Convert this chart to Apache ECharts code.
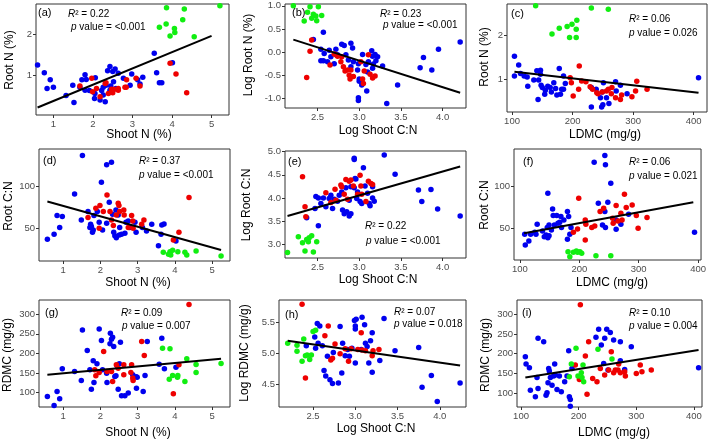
<!DOCTYPE html>
<html><head><meta charset="utf-8">
<script src="https://cdn.jsdelivr.net/npm/echarts@6/dist/echarts.min.js"></script>
<style>html,body{margin:0;padding:0;background:#fff}#c{width:709px;height:440px}</style>
</head><body><div id="c"></div>
<script>
// ---------- tick labels ----------
const ticksShootN = [1, 2, 3, 4, 5];
const ticksLogShootCN = [2.5, 3.0, 3.5, 4.0];
const ticksLDMC = [100, 200, 300, 400];
const ticksRootN = [1, 2];
const ticksLogRootN = [-1.0, -0.5, 0.0, 0.5, 1.0];
const ticksRootCN = [50, 100];
const ticksLogRootCN = [3.0, 3.5, 4.0, 4.5, 5.0];
const ticksRDMC = [100, 150, 200, 250, 300];
const ticksLogRDMC = [4.5, 5.0, 5.5];

// ---------- (a) Shoot N vs Root N ----------
const a_blue = [[0.60,1.26],[0.77,1.07],[0.92,0.90],[0.84,0.69],[1.00,0.72],[1.32,0.52],[1.49,0.77],[1.52,0.35],[1.67,0.72],[1.72,0.90],[1.80,1.02],[1.83,0.91],[1.91,0.64],[2.04,0.45],[2.06,0.95],[2.18,0.41],[2.22,0.64],[2.26,0.72],[2.31,0.37],[2.33,0.77],[2.37,1.12],[2.43,1.22],[2.56,1.16],[2.50,1.10],[2.64,1.06],[2.52,0.85],[2.58,0.69],[2.43,0.65],[2.45,0.75],[2.77,0.94],[2.94,0.77],[2.98,1.04],[3.13,0.90],[3.26,0.96],[3.19,0.80],[3.55,1.54],[3.61,1.07],[3.68,0.83],[3.74,0.83],[4.01,1.31],[1.80,0.65],[2.05,0.57],[2.26,0.53]];
const a_red = [[1.67,0.75],[1.97,0.94],[2.09,0.69],[2.18,0.49],[1.99,0.61],[2.31,0.81],[2.33,0.83],[2.47,0.67],[2.54,0.67],[2.50,0.59],[2.64,0.69],[2.64,0.65],[2.81,0.72],[2.85,0.90],[2.84,0.72],[3.09,0.94],[3.19,0.75],[3.95,1.30],[4.10,1.04],[4.37,0.59],[2.39,0.57]];
const a_green = [[3.86,2.64],[5.21,2.69],[4.31,2.61],[3.85,2.25],[3.68,2.17],[4.27,2.35],[4.06,2.14],[4.07,2.04],[3.95,1.96],[4.56,1.94]];
const a_line = [[0.60,0.23],[5.00,1.96]];

// ---------- (b) Log Shoot C:N vs Log Root N ----------
const b_blue = [[2.57,0.43],[2.45,0.27],[2.54,0.06],[2.58,-0.03],[2.54,-0.19],[2.57,-0.19],[2.62,-0.21],[2.64,0.04],[2.66,-0.10],[2.70,-0.25],[2.72,0.06],[2.74,-0.06],[2.79,0.17],[2.82,0.14],[2.84,-0.06],[2.87,-0.17],[2.90,0.19],[2.92,0.09],[2.93,-0.21],[2.90,-0.32],[2.98,-0.39],[2.99,-0.25],[3.00,-0.58],[3.00,-0.63],[3.03,-0.71],[3.04,-0.05],[3.08,-0.27],[3.10,-0.43],[3.11,-0.21],[3.15,0.03],[3.16,-0.09],[3.16,-0.35],[3.19,-0.05],[3.20,-0.19],[3.22,-0.10],[3.09,-0.84],[2.99,-0.99],[2.99,-1.05],[3.33,-1.11],[3.28,-0.30],[3.46,-0.71],[3.73,-0.34],[3.77,-0.12],[3.87,-0.39],[3.95,0.06],[4.21,0.22],[3.17,-0.26]];
const b_red = [[2.43,0.26],[2.41,0.02],[2.37,-0.55],[2.65,-0.28],[2.70,-0.04],[2.72,-0.06],[2.74,-0.09],[2.78,-0.21],[2.81,-0.32],[2.83,-0.41],[2.86,-0.39],[2.88,-0.50],[2.89,-0.58],[2.90,-0.39],[2.93,-0.53],[3.02,-0.21],[3.04,-0.58],[3.05,-0.68],[3.06,-0.41],[3.11,-0.06],[3.13,-0.48],[3.16,-0.56],[3.19,-0.52],[2.79,-0.10]];
const b_green = [[2.21,1.00],[2.41,0.98],[2.51,0.98],[2.38,0.86],[2.45,0.82],[2.48,0.78],[2.43,0.73],[2.55,0.79],[2.34,0.67],[2.49,0.68]];
const b_line = [[2.21,0.27],[4.21,-0.88]];

// ---------- (c) LDMC vs Root N ----------
const c_blue = [[104,1.52],[111,1.32],[114,1.13],[104,1.07],[120,1.07],[125,1.05],[126,0.84],[136,0.98],[141,1.19],[144,0.98],[147,1.20],[147,1.11],[148,0.86],[150,0.81],[143,0.54],[154,0.66],[155,0.75],[159,0.84],[163,0.81],[165,0.71],[169,0.92],[172,0.79],[174,0.64],[182,0.77],[178,1.24],[185,1.07],[188,0.90],[185,0.77],[180,0.66],[231,0.37],[231,0.81],[239,0.77],[246,0.58],[249,0.71],[251,0.92],[248,0.37],[250,0.42],[260,0.45],[256,0.58],[271,0.94],[272,0.73],[290,0.67],[279,0.86],[408,1.03]];
const c_red = [[196,1.03],[198,0.92],[201,0.62],[211,1.30],[215,0.96],[210,0.77],[222,0.94],[229,0.83],[233,0.77],[240,0.69],[242,0.67],[249,0.71],[256,0.73],[259,0.77],[264,0.67],[265,0.81],[271,0.58],[279,0.54],[281,0.64],[298,0.60],[304,0.73],[306,0.95],[323,0.77]];
const c_green = [[139,2.66],[231,2.61],[259,2.58],[166,2.02],[178,2.15],[191,2.19],[199,2.24],[207,2.33],[206,2.13],[195,1.94],[206,1.94]];
const c_line = [[104,1.17],[408,0.69]];

// ---------- (d) Shoot N vs Root C:N ----------
const d_blue = [[0.58,36.8],[0.76,42.8],[0.84,65.2],[0.91,50.8],[0.98,64],[1.31,91.2],[1.49,60],[1.52,137.2],[1.67,70],[1.74,54.8],[1.72,50.8],[1.81,48],[1.79,45.2],[1.76,52],[1.83,65.2],[1.92,70],[1.97,57.2],[2.03,105.2],[2.06,48],[2.17,126],[2.17,56],[2.24,81.2],[2.30,129.2],[2.33,66.8],[2.36,45.2],[2.39,41.2],[2.42,72],[2.43,38.8],[2.48,66],[2.51,42],[2.52,50.8],[2.57,42.8],[2.66,44],[2.69,57.2],[2.75,58.8],[2.79,50.8],[2.93,57.2],[2.96,45.2],[3.13,50.8],[3.24,46.8],[3.38,54.8],[3.56,29.2],[3.65,54],[3.71,55.2],[3.63,42.8],[4.03,34.8]];
const d_red = [[1.67,62.8],[1.88,74],[1.99,77.2],[1.97,50],[2.08,70],[2.18,90],[2.26,70],[2.30,60],[2.35,53.2],[2.43,66],[2.48,80],[2.50,77.2],[2.52,70],[2.63,72],[2.64,66],[2.75,50.8],[2.84,65.2],[2.87,58.8],[2.88,50],[3.11,54.8],[3.17,60],[3.96,36],[4.11,45.2],[4.38,86.8]];
const d_green = [[3.69,21.2],[3.87,22],[3.94,23.6],[3.89,18],[4.08,22],[4.27,21.2],[4.32,18],[4.57,22.8],[5.24,16.8],[3.83,18.8]];
const d_line = [[0.58,82],[5.24,24]];

// ---------- (e) Log Shoot C:N vs Log Root C:N ----------
const e_blue = [[2.37,3.57],[2.51,3.40],[2.48,4.03],[2.51,4.00],[2.47,3.77],[2.57,4.00],[2.54,3.88],[2.60,3.81],[2.64,3.99],[2.66,4.06],[2.68,3.77],[2.70,3.97],[2.74,3.93],[2.76,4.06],[2.79,4.13],[2.80,3.74],[2.82,3.66],[2.85,3.70],[2.84,4.22],[2.90,4.24],[2.88,3.95],[2.90,3.66],[2.88,3.61],[2.94,4.22],[2.95,4.42],[2.96,4.41],[2.94,4.86],[2.94,4.83],[2.98,4.13],[2.97,3.99],[3.01,3.92],[3.03,3.88],[3.05,4.65],[3.07,4.26],[3.10,4.10],[3.12,3.88],[3.13,3.83],[3.16,4.00],[3.16,4.24],[3.18,3.93],[3.30,4.93],[3.43,4.51],[3.71,4.17],[3.75,3.92],[3.86,4.18],[3.94,3.76],[4.21,3.61]];
const e_red = [[2.32,4.46],[2.35,3.81],[2.36,3.59],[2.60,4.11],[2.66,3.90],[2.71,4.19],[2.72,3.95],[2.78,4.28],[2.79,4.24],[2.82,4.08],[2.84,4.40],[2.86,3.97],[2.88,4.36],[2.90,4.39],[2.93,4.26],[2.98,4.08],[3.01,4.49],[3.02,4.26],[3.03,4.08],[3.08,3.92],[3.11,4.36],[3.14,4.31],[3.16,4.29]];
const e_green = [[2.14,2.82],[2.27,3.16],[2.32,3.03],[2.37,3.10],[2.40,3.14],[2.43,3.18],[2.39,3.05],[2.49,3.05],[2.35,2.85],[2.45,2.83]];
const e_line = [[2.14,3.61],[4.21,4.68]];

// ---------- (f) LDMC vs Root C:N ----------
const f_blue = [[108,42.8],[109,30],[115,34.8],[118,42.8],[125,45.2],[127,42.8],[129,54.8],[138,46.8],[141,40],[144,42],[146,50.8],[147,92],[147,38.8],[149,41.2],[149,54],[153,48],[155,73.2],[156,65.2],[158,54],[162,65.2],[164,56],[167,57.2],[169,64],[170,50.8],[174,60],[180,70],[182,64],[180,36.8],[184,42.8],[186,50.8],[225,129.2],[232,80],[239,54],[243,137.2],[244,126],[248,81.2],[243,70],[244,50.8],[253,104],[262,60],[262,48.8],[270,54.8],[283,66.8],[394,45.2]];
const f_red = [[199,86],[190,45.2],[197,49.2],[210,60],[211,54.8],[210,36],[221,50.8],[226,52.8],[235,70],[241,74],[256,62],[257,56],[262,77.2],[265,58.8],[270,68],[272,60],[276,90.8],[279,74.8],[289,78],[296,65.2],[299,50],[314,62.8]];
const f_green = [[181,22],[184,16],[190,21.2],[195,22.8],[197,21.2],[201,22],[204,20],[228,17.2],[253,17.2]];
const f_line = [[107,44],[392,81.2]];

// ---------- (g) Shoot N vs RDMC ----------
const g_blue = [[0.58,89.8],[0.76,66.8],[0.84,102.6],[0.91,83.8],[0.98,160.4],[1.31,153.6],[1.49,130.6],[1.52,260],[1.65,207.2],[1.72,157.9],[1.76,108.5],[1.81,180.9],[1.83,125.5],[1.91,173.2],[1.97,262.6],[2.03,232.8],[2.06,157.9],[2.17,149.4],[2.18,125.5],[2.26,224.3],[2.27,251.5],[2.30,236.2],[2.33,241.3],[2.36,217.5],[2.39,140.9],[2.42,142.6],[2.45,168.1],[2.51,173.2],[2.48,108.5],[2.54,228.5],[2.57,91.5],[2.66,91.5],[2.75,98.3],[2.87,145.2],[2.96,140],[2.99,139],[2.97,111],[3.15,102.6],[3.20,143.4],[3.26,230.2],[3.58,172.3],[3.65,238.7],[3.72,160.4],[4.03,164.7]];
const g_red = [[1.85,157.9],[1.88,142.6],[1.97,151],[2.09,204.7],[2.18,153.6],[2.30,153.6],[2.33,128.1],[2.43,170.6],[2.48,162.1],[2.63,170.6],[2.63,145.2],[2.82,151],[2.84,170.6],[2.87,136.7],[2.88,130.6],[3.11,230.2],[3.18,194.5],[3.96,96.6],[4.11,170.6],[4.38,324.7]];
const g_green = [[3.67,213.2],[3.87,211.5],[3.85,134],[3.94,143.4],[4.08,143.4],[4.07,139.1],[4.27,128.1],[4.32,186],[4.57,171.5],[4.57,151],[5.24,174]];
const g_line = [[0.58,145],[5.24,186]];

// ---------- (h) Log Shoot C:N vs Log RDMC ----------
const h_blue = [[2.42,5.12],[2.52,5.26],[2.53,5.08],[2.55,5.48],[2.58,5.44],[2.56,5.16],[2.61,5.12],[2.63,4.72],[2.65,4.63],[2.67,4.95],[2.70,4.57],[2.73,4.51],[2.74,5.01],[2.80,4.52],[2.82,5.43],[2.84,4.68],[2.85,5.16],[2.88,4.96],[2.91,5.06],[2.93,4.95],[2.96,5.08],[2.99,5.53],[3.00,5.44],[3.00,5.39],[3.00,4.84],[3.01,5.55],[3.07,5.06],[3.08,5.58],[3.11,5.46],[3.12,5.16],[3.14,5.11],[3.16,4.84],[3.18,5.20],[3.20,5.33],[3.20,4.69],[3.29,4.88],[3.34,5.56],[3.47,5.04],[3.75,5.09],[3.79,4.45],[3.90,4.64],[3.97,4.22],[4.24,4.52]];
const h_red = [[2.37,5.79],[2.41,4.60],[2.64,5.28],[2.68,5.44],[2.71,4.89],[2.73,4.92],[2.76,5.15],[2.82,4.99],[2.88,5.07],[2.92,4.87],[2.95,5.07],[3.03,5.06],[3.07,5.33],[3.08,5.05],[3.12,5.04],[3.20,4.96],[3.21,5.04],[3.28,5.06]];
const h_green = [[2.20,5.16],[2.31,5.13],[2.31,5.03],[2.39,5.23],[2.37,4.87],[2.41,4.96],[2.43,4.97],[2.46,4.90],[2.48,4.97],[2.50,5.35],[2.53,5.37]];
const h_line = [[2.20,5.20],[4.24,4.80]];

// ---------- (i) LDMC vs RDMC ----------
const i_blue = [[107.5,192.4],[108.7,173.7],[114.5,164.4],[116.2,107.6],[124.9,90.7],[127.7,139.8],[129.5,239],[129.5,111.9],[139.3,230.5],[143.4,94.9],[145.1,100.8],[146.8,126.3],[148,162.7],[149.1,155.9],[150.9,139.8],[153.8,120.3],[156.6,143.2],[158.4,173.7],[159.5,145.8],[162.4,109.3],[166.5,143.2],[169.9,103.4],[175.7,128.8],[179.8,143.2],[182.7,207.6],[183.8,90.7],[185.5,83.9],[185.5,67],[188.4,162.7],[230,241.5],[234.7,261.9],[239.3,222],[243.4,175.4],[245.2,239],[248.7,261.9],[250.9,158.5],[254.9,253.4],[260.7,234.7],[272.3,230.5],[272.3,182.2],[279.8,160.2],[291.3,217.8],[408.1,164.4]];
const i_red = [[202.9,323.7],[194.2,171.2],[211.6,194.1],[214.5,97.5],[217.3,230.5],[201.2,134.7],[224.3,137.3],[231.8,128.8],[237.6,162.7],[245.1,145.8],[252,158.5],[256.6,205.1],[260.7,151.7],[263.6,158.5],[268.2,158.5],[269.4,173.7],[272.3,151.7],[279.8,154.2],[281,143.2],[300,150],[306.9,171.2],[309.8,154.2],[326,158.5]];
const i_green = [[183.8,141.5],[187.3,173.7],[195.4,213.6],[198.8,143.2],[204.6,151.7],[205.8,139.8],[207.5,171.2],[208.7,128.8],[233.5,211],[257.8,186.4]];
const i_line = [[107.5,139.8],[408,209.3]];

// ---------- layout ----------
const panels = [
  {lab:'(a)', blue:a_blue, red:a_red, green:a_green, line:a_line, r2:'0.22', p:'<0.001', xt:ticksShootN, yt:ticksRootN, dec:0,
   grid:[36,4,193,111], xr:[0.56,5.44], yr:[0.05,2.73], xName:'Shoot N (%)', yName:'Root N (%)',
   labPos:[38,13], r2Pos:[68,14], pPos:[71,27], xnPos:[139,135], ynPos:[10,60]},
  {lab:'(b)', blue:b_blue, red:b_red, green:b_green, line:b_line, r2:'0.23', p:'<0.001', xt:ticksLogShootCN, yt:ticksLogRootN, dec:1,
   grid:[285,4,181,104], xr:[2.11,4.28], yr:[-1.21,1.04], xName:'Log Shoot C:N', yName:'Log Root N (%)',
   labPos:[292,13], r2Pos:[380,14], pPos:[383,25], xnPos:[378,131], ynPos:[249,55]},
  {lab:'(c)', blue:c_blue, red:c_red, green:c_green, line:c_line, r2:'0.06', p:'0.026', xt:ticksLDMC, yt:ticksRootN, dec:0,
   grid:[507,4,200,108], xr:[91.7,422], yr:[0.257,2.70], xName:'LDMC (mg/g)', yName:'Root N (%)',
   labPos:[511,14], r2Pos:[629,19], pPos:[629,33], xnPos:[605,135], ynPos:[485,57]},
  {lab:'(d)', blue:d_blue, red:d_red, green:d_green, line:d_line, r2:'0.37', p:'<0.001', xt:ticksShootN, yt:ticksRootCN, dec:0,
   grid:[39,149,191,112], xr:[0.355,5.48], yr:[10.8,145], xName:'Shoot N (%)', yName:'Root C:N',
   labPos:[43,161], r2Pos:[139,161], pPos:[139,175], xnPos:[138,283], ynPos:[9,206]},
  {lab:'(e)', blue:e_blue, red:e_red, green:e_green, line:e_line, r2:'0.22', p:'<0.001', xt:ticksLogShootCN, yt:ticksLogRootCN, dec:1,
   grid:[285,151,181,107], xr:[2.11,4.28], yr:[2.70,5.015], xName:'Log Shoot C:N', yName:'Log Root C:N',
   labPos:[288,162], r2Pos:[365,226], pPos:[366,241], xnPos:[378,280], ynPos:[247,205]},
  {lab:'(f)', blue:f_blue, red:f_red, green:f_green, line:f_line, r2:'0.06', p:'0.021', xt:ticksLDMC, yt:ticksRootCN, dec:0,
   grid:[514,149,192,111], xr:[90,405], yr:[12,145], xName:'LDMC (mg/g)', yName:'Root C:N',
   labPos:[523,162], r2Pos:[629,162], pPos:[629,176], xnPos:[612,283], ynPos:[485,205]},
  {lab:'(g)', blue:g_blue, red:g_red, green:g_green, line:g_line, r2:'0.09', p:'0.007', xt:ticksShootN, yt:ticksRDMC, dec:0,
   grid:[39,300,191,107], xr:[0.355,5.48], yr:[62.8,336.5], xName:'Shoot N (%)', yName:'RDMC (mg/g)',
   labPos:[45,313], r2Pos:[121,313], pPos:[122,326], xnPos:[138,433], ynPos:[8,355]},
  {lab:'(h)', blue:h_blue, red:h_red, green:h_green, line:h_line, r2:'0.07', p:'0.018', xt:ticksLogShootCN, yt:ticksLogRDMC, dec:1,
   grid:[279,300,187,107], xr:[2.097,4.31], yr:[4.13,5.86], xName:'Log Shoot C:N', yName:'Log RDMC (mg/g)',
   labPos:[285,315], r2Pos:[394,312], pPos:[394,324], xnPos:[376,429], ynPos:[245,353]},
  {lab:'(i)', blue:i_blue, red:i_red, green:i_green, line:i_line, r2:'0.10', p:'0.004', xt:ticksLDMC, yt:ticksRDMC, dec:0,
   grid:[517,300,185,107], xr:[93,414], yr:[65,336], xName:'LDMC (mg/g)', yName:'RDMC (mg/g)',
   labPos:[522,313], r2Pos:[629,313], pPos:[629,326], xnPos:[614,433], ynPos:[486,355]}
];

const FONT = '"Liberation Sans", Arial, Helvetica, sans-serif';
const BLUE = '#0000ee', RED = '#ee0000', GREEN = '#11ee11';
const grids = [], xAxes = [], yAxes = [], series = [], graphic = [];

panels.forEach((pn, k) => {
  grids.push({left: pn.grid[0], top: pn.grid[1], width: pn.grid[2], height: pn.grid[3],
    show: true, borderColor: '#333', borderWidth: 1, backgroundColor: '#fff', containLabel: false});
  const fmt = v => pn.dec ? Number(v).toFixed(pn.dec) : String(v);
  const axisCommon = (ticks, range, pos) => ({
    type: 'value', gridIndex: k, min: range[0], max: range[1], position: pos,
    axisLine: {show: false, onZero: false}, splitLine: {show: false}, axisPointer: {show: false},
    axisTick: {show: true, inside: false, length: 3, customValues: ticks, lineStyle: {color: '#333', width: 1}},
    axisLabel: {show: true, customValues: ticks, formatter: fmt, color: '#4d4d4d', fontSize: 9.5, fontFamily: FONT, margin: 4}
  });
  xAxes.push(axisCommon(pn.xt, pn.xr, 'bottom'));
  yAxes.push(axisCommon(pn.yt, pn.yr, 'left'));
  const sc = (data, color) => ({type: 'scatter', xAxisIndex: k, yAxisIndex: k, data: data, symbolSize: 5.5,
    itemStyle: {color: color, opacity: 1}, silent: true, z: 2});
  series.push(sc(pn.blue, BLUE), sc(pn.red, RED), sc(pn.green, GREEN));
  series.push({type: 'line', xAxisIndex: k, yAxisIndex: k, data: pn.line, showSymbol: false, symbol: 'none',
    lineStyle: {color: '#000', width: 2}, silent: true, z: 3});

  const txt = (pos, text, size, extra) => Object.assign({type: 'text', x: pos[0], y: pos[1], z: 100, silent: true,
    style: Object.assign({text: text, fontSize: size, fontFamily: FONT, fill: '#000', align: 'left', verticalAlign: 'middle',
      rich: {i: {fontStyle: 'italic', fontSize: size, fontFamily: FONT, fill: '#000'}}}, extra || {})});
  graphic.push(txt(pn.labPos, pn.lab, 11));
  graphic.push(txt(pn.r2Pos, '{i|R}\u00b2 = ' + pn.r2, 10));
  graphic.push(txt(pn.pPos, '{i|p} value = ' + pn.p, 10));
  graphic.push(txt(pn.xnPos, pn.xName, 12, {align: 'center'}));
  const yt = txt(pn.ynPos, pn.yName, 12, {align: 'center'});
  yt.rotation = Math.PI / 2;
  graphic.push(yt);
});

const chart = echarts.init(document.getElementById('c'), null, {renderer: 'canvas'});
chart.setOption({animation: false, backgroundColor: '#fff', tooltip: {show: false}, grid: grids, xAxis: xAxes, yAxis: yAxes, series: series, graphic: graphic});
</script></body></html>
